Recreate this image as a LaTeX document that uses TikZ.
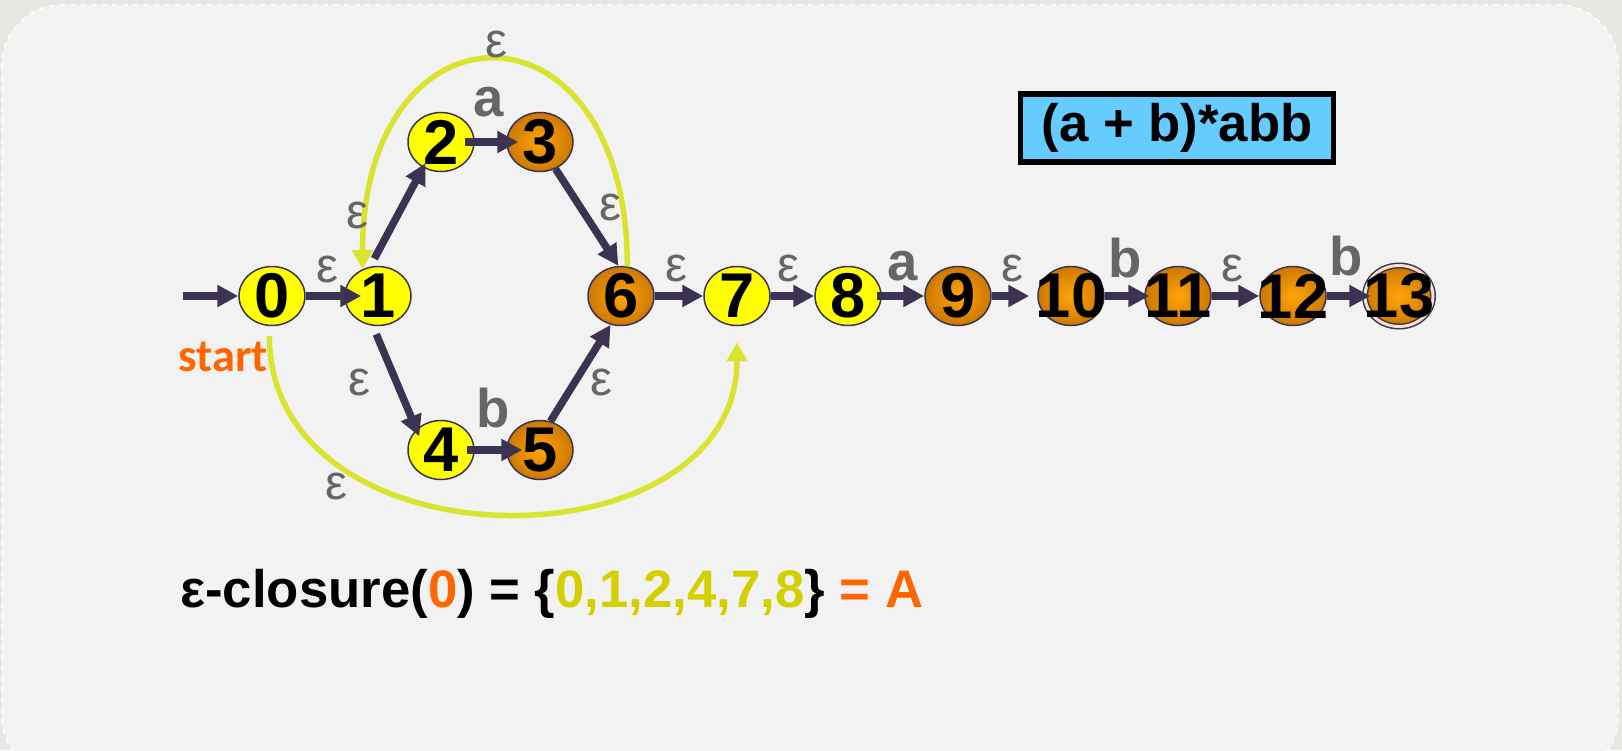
\documentclass[tikz,border=0pt]{standalone}
\usepackage{fontspec}
\setmainfont{Liberation Sans}
\newfontfamily\calfont{Carlito}
\usepackage{tikz}
\usetikzlibrary{arrows.meta,shapes.geometric,calc}
\definecolor{nfaedge}{RGB}{60,50,82}
\definecolor{nfayel}{RGB}{255,255,0}
\definecolor{nfaorgin}{RGB}{255,165,10}
\definecolor{nfaorgout}{RGB}{205,120,0}
\definecolor{nfaring}{RGB}{250,225,200}
\definecolor{nfaarc}{RGB}{218,228,48}
\definecolor{nfalbl}{RGB}{102,102,102}
\definecolor{nfahot}{RGB}{255,102,0}
\definecolor{nfaset}{RGB}{212,208,0}
\definecolor{nfasky}{RGB}{102,204,255}
\definecolor{nfabg}{RGB}{233,231,225}
\definecolor{nfapanel}{RGB}{242,242,242}
\newcommand{\sn}[1]{\makebox[0pt]{#1}}
\tikzset{
  st/.style={
    ellipse, draw=nfaedge, line width=0.3mm,
    minimum width=13.2mm, minimum height=11.8mm,
    inner xsep=0pt, inner ysep=-1.5mm,
    font=\fontsize{36}{36}\selectfont\bfseries
  },
  yst/.style={st, fill=nfayel},
  ost/.style={st, inner color=nfaorgin, outer color=nfaorgout},
  acc/.style={ost, double=nfaring, double distance=0.6mm,
    minimum width=13.6mm, minimum height=12.2mm},
  arr/.style={-{Triangle[length=4.2mm,width=4.2mm]}, draw=nfaedge, line width=1.5mm},
  earc/.style={-{Triangle[length=3.8mm,width=4mm]}, draw=nfaarc, line width=1.1mm},
  eps/.style={font=\fontsize{28}{28}\selectfont, text=nfalbl, inner sep=0pt},
  sym/.style={font=\fontsize{31}{31}\selectfont\bfseries, text=nfalbl, inner sep=0pt},
  rebox/.style={
    draw=black, line width=1.1mm, fill=nfasky, inner sep=0pt,
    minimum width=62.6mm, minimum height=13.6mm,
    font=\fontsize{30}{30}\selectfont\bfseries
  },
  panel/.style={fill=nfapanel, draw=white, dashed, line width=0.3mm, rounded corners=12mm}
}
\begin{document}
\begin{tikzpicture}[x=0.2mm, y=-0.2mm]
  \useasboundingbox (0,0) rectangle (1622,750);
  \clip (0,0) rectangle (1622,750);
  \fill[nfabg] (0,0) rectangle (1622,750);
  \draw[panel] (2,5) rectangle (1618,777);

  \node[yst] (s0) at (272,296) {\sn{0}};
  \node[yst] (s1) at (378,296) {\sn{1}};
  \node[yst] (s2) at (441,142) {\sn{2}};
  \node[ost] (s3) at (540,142) {\sn{3}};
  \node[yst] (s4) at (441,450) {\sn{4}};
  \node[ost] (s5) at (540,450) {\sn{5}};
  \node[ost] (s6) at (621,296) {\sn{6}};
  \node[yst] (s7) at (737,296) {\sn{7}};
  \node[yst] (s8) at (848,296) {\sn{8}};
  \node[ost] (s9) at (958,296) {\sn{9}};
  \node[ost] (s10) at (1071,296) {\sn{10}};
  \node[ost] (s11) at (1178,296) {\sn{11}};
  \node[ost] (s12) at (1293,296) {\sn{12}};
  \node[acc] (s13) at (1399,296) {\sn{13}};
  \coordinate (init) at (183,296);

  \draw[arr] (init) -- (s0);
  \draw[arr, shorten >=-3.4mm] (s0) -- (s1);
  \draw[arr, shorten <=1.8mm, shorten >=-1mm] (s1.105) -- (s2.235);
  \draw[arr, shorten <=-2mm, shorten >=-2.4mm] (s2) -- (s3);
  \draw[arr] (s3.-60) -- (s6.95);
  \draw[arr, shorten <=1.8mm, shorten >=-1.5mm] (s1.-100) -- (s4.140);
  \draw[arr, shorten <=-1.6mm, shorten >=-3.2mm] (s4) -- (s5);
  \draw[arr] (s5.70) -- (s6.250);
  \draw[arr] (s6) -- (s7);
  \draw[arr] (s7) -- (s8);
  \draw[arr, shorten <=-1mm] (s8) -- (s9);
  \draw[arr, shorten >=1.6mm] (s9) -- (s10);
  \draw[arr, shorten >=-1mm] (s10) -- (s11);
  \draw[arr] (s11) -- (s12);
  \draw[arr, shorten >=-1.2mm] (s12) -- (s13);

  \draw[earc] (s6.78) .. controls +(0,-277) and +(0,-277) .. (s1.120);
  \draw[earc, shorten <=2mm, shorten >=3.2mm] (s0.265) .. controls +(0,245) and +(0,245) .. (s7.south);

  \node[eps] (l01) at (327,269) {ε};
  \node[eps] (l12) at (357,215) {ε};
  \node[sym] (l23) at (489,102) {a};
  \node[eps] (ltop) at (496,45) {ε};
  \node[eps] (l36) at (610,207) {ε};
  \node[eps] (l14) at (359,382) {ε};
  \node[sym] (l45) at (493,408) {b};
  \node[eps] (l56) at (601,382) {ε};
  \node[eps] (lbot) at (336,486) {ε};
  \node[eps] (l67) at (676,268) {ε};
  \node[eps] (l78) at (788,268) {ε};
  \node[sym] (l89) at (903,266) {a};
  \node[eps] (l910) at (1012,268) {ε};
  \node[sym] (l1011) at (1125,258) {b};
  \node[eps] (l1112) at (1232,268) {ε};
  \node[sym] (l1213) at (1346,256) {b};

  \node[anchor=base west, inner sep=0pt, text=nfahot,
    font=\calfont\fontsize{26.5}{26}\selectfont\bfseries] (stt) at (178,371) {start};
  \node[rebox] (re) at (1177,128) {(a + b)*abb};
  \node[anchor=base west, inner sep=0pt, font=\fontsize{30}{30}\selectfont\bfseries] (cls) at (180,607)
    {ε-closure(\textcolor{nfahot}{0}) = \{\textcolor{nfaset}{0,1,2,4,7,8}\} \textcolor{nfahot}{= A}};
\end{tikzpicture}
\end{document}
